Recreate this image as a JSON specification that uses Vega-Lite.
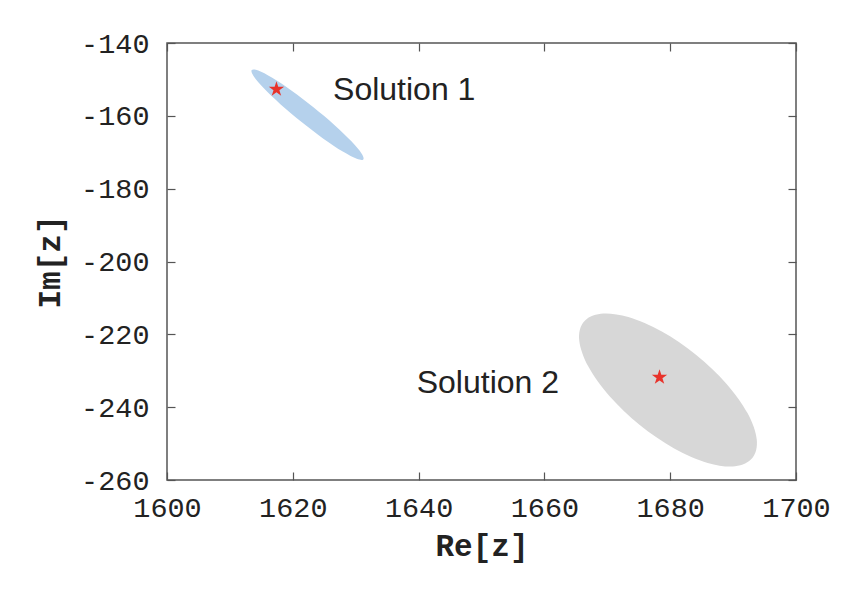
{
  "$schema": "https://vega.github.io/schema/vega-lite/v6.json",
  "width": 629,
  "height": 437,
  "autosize": "none",
  "padding": {"left": 167, "top": 43, "right": 67, "bottom": 135},
  "background": "white",
  "config": {
    "view": {"stroke": "#555555", "strokeWidth": 1.5},
    "axis": {
      "labelFont": "Liberation Mono",
      "labelFontSize": 28.5,
      "labelColor": "#222222",
      "titleFont": "Liberation Mono",
      "titleFontSize": 31,
      "titleFontWeight": "bold",
      "titleColor": "#222222",
      "domain": false,
      "grid": false,
      "tickColor": "#555555",
      "tickWidth": 1.2,
      "tickSize": -8
    }
  },
  "datasets": {
    "ellipses": [
      {"id": "Solution 1", "k": 0, "re": 1631.21, "im": -171.96},
      {"id": "Solution 1", "k": 1, "re": 1630.17, "im": -171.81},
      {"id": "Solution 1", "k": 2, "re": 1627.95, "im": -169.81},
      {"id": "Solution 1", "k": 3, "re": 1624.86, "im": -166.27},
      {"id": "Solution 1", "k": 4, "re": 1621.40, "im": -161.72},
      {"id": "Solution 1", "k": 5, "re": 1618.07, "im": -156.87},
      {"id": "Solution 1", "k": 6, "re": 1615.40, "im": -152.45},
      {"id": "Solution 1", "k": 7, "re": 1613.78, "im": -149.13},
      {"id": "Solution 1", "k": 8, "re": 1613.47, "im": -147.42},
      {"id": "Solution 1", "k": 9, "re": 1614.51, "im": -147.57},
      {"id": "Solution 1", "k": 10, "re": 1616.73, "im": -149.57},
      {"id": "Solution 1", "k": 11, "re": 1619.82, "im": -153.11},
      {"id": "Solution 1", "k": 12, "re": 1623.28, "im": -157.66},
      {"id": "Solution 1", "k": 13, "re": 1626.61, "im": -162.51},
      {"id": "Solution 1", "k": 14, "re": 1629.28, "im": -166.93},
      {"id": "Solution 1", "k": 15, "re": 1630.90, "im": -170.25},
      {"id": "Solution 2", "k": 0, "re": 1693.06, "im": -253.97},
      {"id": "Solution 2", "k": 1, "re": 1690.32, "im": -256.23},
      {"id": "Solution 2", "k": 2, "re": 1685.96, "im": -255.30},
      {"id": "Solution 2", "k": 3, "re": 1680.63, "im": -251.32},
      {"id": "Solution 2", "k": 4, "re": 1675.16, "im": -244.90},
      {"id": "Solution 2", "k": 5, "re": 1670.37, "im": -237.01},
      {"id": "Solution 2", "k": 6, "re": 1666.99, "im": -228.86},
      {"id": "Solution 2", "k": 7, "re": 1665.54, "im": -221.69},
      {"id": "Solution 2", "k": 8, "re": 1666.24, "im": -216.59},
      {"id": "Solution 2", "k": 9, "re": 1668.98, "im": -214.33},
      {"id": "Solution 2", "k": 10, "re": 1673.34, "im": -215.26},
      {"id": "Solution 2", "k": 11, "re": 1678.67, "im": -219.24},
      {"id": "Solution 2", "k": 12, "re": 1684.14, "im": -225.66},
      {"id": "Solution 2", "k": 13, "re": 1688.93, "im": -233.55},
      {"id": "Solution 2", "k": 14, "re": 1692.31, "im": -241.70},
      {"id": "Solution 2", "k": 15, "re": 1693.76, "im": -248.87}
    ],
    "solutions": [
      {"id": "Solution 1", "re": 1617.4, "im": -152.7, "label_re": 1626.4, "label_im": -152.9},
      {"id": "Solution 2", "re": 1678.3, "im": -231.8, "label_re": 1639.7, "label_im": -233.4}
    ]
  },
  "layer": [
    {
      "data": {"name": "ellipses"},
      "mark": {"type": "line", "interpolate": "cardinal-closed", "strokeWidth": 0, "fillOpacity": 1},
      "encoding": {
        "x": {
          "field": "re", "type": "quantitative",
          "scale": {"domain": [1600, 1700], "nice": false, "zero": false},
          "axis": {
            "orient": "bottom", "values": [1600, 1620, 1640, 1660, 1680, 1700], "format": "d",
            "title": "Re[z]", "titlePadding": 10, "labelPadding": 21, "labelFlush": false
          }
        },
        "y": {
          "field": "im", "type": "quantitative",
          "scale": {"domain": [-260, -140], "nice": false, "zero": false},
          "axis": {
            "orient": "left", "values": [-260, -240, -220, -200, -180, -160, -140],
            "title": "Im[z]", "titlePadding": 14, "labelPadding": 26, "labelFlush": false,
            "labelExpr": "datum.value < 0 ? '-' + abs(datum.value) : '' + datum.value"
          }
        },
        "fill": {
          "field": "id", "type": "nominal",
          "scale": {"domain": ["Solution 1", "Solution 2"], "range": ["#b5d1ec", "#d7d7d7"]},
          "legend": null
        },
        "detail": {"field": "id"},
        "order": {"field": "k", "type": "quantitative"}
      }
    },
    {
      "data": {"name": "solutions"},
      "mark": {
        "type": "point", "filled": true, "color": "#e8332b", "size": 260, "opacity": 1,
        "shape": "M0,-1L0.2245,-0.309L0.9511,-0.309L0.3633,0.118L0.5878,0.809L0,0.382L-0.5878,0.809L-0.3633,0.118L-0.9511,-0.309L-0.2245,-0.309Z"
      },
      "encoding": {
        "x": {
          "field": "re", "type": "quantitative",
          "scale": {"domain": [1600, 1700], "nice": false, "zero": false},
          "axis": {"orient": "top", "values": [1600, 1620, 1640, 1660, 1680, 1700], "labels": false, "title": null}
        },
        "y": {
          "field": "im", "type": "quantitative",
          "scale": {"domain": [-260, -140], "nice": false, "zero": false},
          "axis": {"orient": "right", "values": [-260, -240, -220, -200, -180, -160, -140], "labels": false, "title": null}
        }
      }
    },
    {
      "data": {"name": "solutions"},
      "mark": {
        "type": "text", "align": "left", "baseline": "middle",
        "font": "Liberation Sans", "fontSize": 32, "color": "#222222"
      },
      "encoding": {
        "x": {"field": "label_re", "type": "quantitative", "axis": null},
        "y": {"field": "label_im", "type": "quantitative", "axis": null},
        "text": {"field": "id"}
      }
    }
  ],
  "resolve": {"axis": {"x": "independent", "y": "independent"}}
}
